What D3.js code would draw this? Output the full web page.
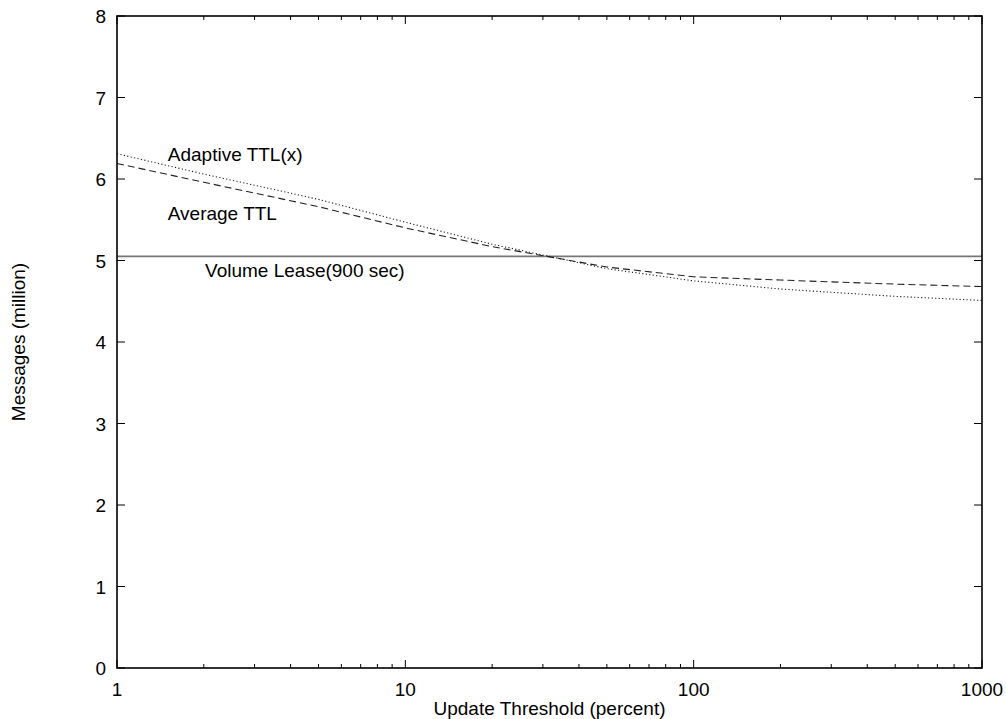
<!DOCTYPE html>
<html lang="en">
<head>
  <meta charset="UTF-8">
  <title>Messages vs Update Threshold</title>
  <script src="https://d3js.org/d3.v7.min.js"></script>
  <style>
    body {
      margin: 0;
      padding: 0;
      background: #fff;
    }
    text {
      font-family: "Liberation Sans", Arial, sans-serif;
      font-size: 19px;
      fill: #000;
    }
  </style>
</head>
<body>
  <div id="chart"></div>

  <script>
    // x values (update threshold, percent)
    const thresholds = [1, 2, 5, 10, 20, 50, 100, 200, 500, 1000];
    // series values (million messages)
    const adaptiveTTL = [6.31, 6.06, 5.75, 5.47, 5.20, 4.90, 4.75, 4.65, 4.56, 4.51];
    const averageTTL = [6.19, 5.96, 5.66, 5.40, 5.17, 4.92, 4.80, 4.76, 4.71, 4.68];
    const volumeLease = 5.05;

    const xTicks = [1, 10, 100, 1000];
    const yTicks = [0, 1, 2, 3, 4, 5, 6, 7, 8];

    const width = 1006;
    const height = 719;
    const margin = {top: 16, right: 24, bottom: 51, left: 117};

    const x = d3.scaleLog()
      .domain([1, 1000])
      .range([margin.left, width - margin.right]);

    const y = d3.scaleLinear()
      .domain([0, 8])
      .range([height - margin.bottom, margin.top]);

    const svg = d3.select("#chart")
      .append("svg")
      .attr("width", width)
      .attr("height", height);

    const x0 = margin.left, x1 = width - margin.right;
    const y0 = height - margin.bottom, y1 = margin.top;

    // minor ticks for log axis
    const minorTicks = [];
    for (let d = 1; d < 1000; d *= 10) {
      for (let k = 2; k <= 9; k++) minorTicks.push(d * k);
    }

    const ticks = svg.append("g")
      .attr("stroke", "#000")
      .attr("stroke-width", 1);

    // x major ticks (bottom + top)
    xTicks.forEach(t => {
      ticks.append("line").attr("x1", x(t)).attr("x2", x(t)).attr("y1", y0).attr("y2", y0 - 8);
      ticks.append("line").attr("x1", x(t)).attr("x2", x(t)).attr("y1", y1).attr("y2", y1 + 8);
    });
    minorTicks.forEach(t => {
      ticks.append("line").attr("x1", x(t)).attr("x2", x(t)).attr("y1", y0).attr("y2", y0 - 4);
      ticks.append("line").attr("x1", x(t)).attr("x2", x(t)).attr("y1", y1).attr("y2", y1 + 4);
    });
    // y ticks (left + right)
    yTicks.forEach(t => {
      ticks.append("line").attr("x1", x0).attr("x2", x0 + 8).attr("y1", y(t)).attr("y2", y(t));
      ticks.append("line").attr("x1", x1).attr("x2", x1 - 8).attr("y1", y(t)).attr("y2", y(t));
    });

    // tick labels
    svg.append("g").selectAll("text")
      .data(yTicks)
      .enter()
      .append("text")
      .attr("x", x0 - 11)
      .attr("y", d => y(d) + 7)
      .attr("text-anchor", "end")
      .text(d => d);

    svg.append("g").selectAll("text")
      .data(xTicks)
      .enter()
      .append("text")
      .attr("x", d => x(d))
      .attr("y", y0 + 28)
      .attr("text-anchor", "middle")
      .text(d => d);

    // axis titles
    svg.append("text")
      .attr("x", (x0 + x1) / 2)
      .attr("y", height - 4)
      .attr("text-anchor", "middle")
      .text("Update Threshold (percent)");

    svg.append("text")
      .attr("transform", `translate(25, ${(y0 + y1) / 2}) rotate(-90)`)
      .attr("text-anchor", "middle")
      .text("Messages (million)");

    const line = d3.line()
      .x(d => x(d[0]))
      .y(d => y(d[1]));

    // Volume Lease (constant)
    svg.append("line")
      .attr("x1", x(1)).attr("x2", x(1000))
      .attr("y1", y(volumeLease)).attr("y2", y(volumeLease))
      .attr("stroke", "#777")
      .attr("stroke-width", 1.6);

    // Average TTL (dashed)
    svg.append("path")
      .datum(d3.zip(thresholds, averageTTL))
      .attr("d", line)
      .attr("fill", "none")
      .attr("stroke", "#222")
      .attr("stroke-width", 1.1)
      .attr("stroke-dasharray", "7,4");

    // Adaptive TTL (dotted)
    svg.append("path")
      .datum(d3.zip(thresholds, adaptiveTTL))
      .attr("d", line)
      .attr("fill", "none")
      .attr("stroke", "#222")
      .attr("stroke-width", 1.1)
      .attr("stroke-dasharray", "1.2,2.3");

    // curve labels
    svg.append("text").attr("x", x(1.5)).attr("y", y(6.22)).text("Adaptive TTL(x)");
    svg.append("text").attr("x", x(1.5)).attr("y", y(5.50)).text("Average TTL");
    svg.append("text").attr("x", x(2.02)).attr("y", y(4.80)).text("Volume Lease(900 sec)");

    // frame
    svg.append("rect")
      .attr("x", x0).attr("y", y1)
      .attr("width", x1 - x0).attr("height", y0 - y1)
      .attr("fill", "none")
      .attr("stroke", "#000")
      .attr("stroke-width", 1.6);
  </script>
</body>
</html>
